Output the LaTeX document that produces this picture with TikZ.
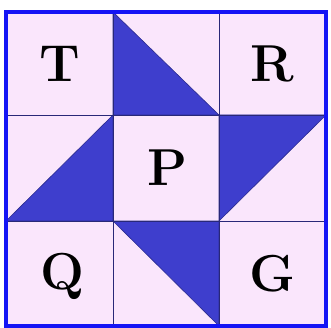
\documentclass[tikz,border=0pt]{standalone}
\begin{document}
\begin{tikzpicture}[x=1pt,y=-1pt,
  cellbg/.style={fill=pinkbg},
  darktri/.style={fill=quiltblue, draw=quiltblue!70!black, line width=0.6pt},
  gridline/.style={draw=navyline, line width=0.8pt},
  letter/.style={font=\fontsize{52}{56}\selectfont\bfseries, text=black, inner sep=0pt}]
\definecolor{pinkbg}{RGB}{250,230,252}
\definecolor{quiltblue}{RGB}{62,62,205}
\definecolor{navyline}{RGB}{40,40,120}
\definecolor{borderblue}{RGB}{20,20,245}
\useasboundingbox (0,0) rectangle (331,328);
\fill[white] (0,0) rectangle (331,328);
% background
\fill[cellbg] (6,12) rectangle (326,326);
% dark triangles
\fill[darktri] (113,12) -- (113,115) -- (219,115) -- cycle;
\fill[darktri] (113,115) -- (113,221) -- (6,221) -- cycle;
\fill[darktri] (219,115) -- (326,115) -- (219,221) -- cycle;
\fill[darktri] (113,221) -- (219,221) -- (219,326) -- cycle;
% grid lines
\draw[gridline] (113,12) -- (113,326);
\draw[gridline] (219,12) -- (219,326);
\draw[gridline] (6,115) -- (326,115);
\draw[gridline] (6,221) -- (326,221);
% outer border
\draw[draw=borderblue, line width=3.5pt] (6,12) rectangle (326,326);
% letters
\node[letter] (T) at (60,64) {T};
\node[letter] (R) at (272,64) {R};
\node[letter] (P) at (167,168) {P};
\node[letter] (Q) at (62,276) {Q};
\node[letter] (G) at (272,274) {G};
\end{tikzpicture}
\end{document}
